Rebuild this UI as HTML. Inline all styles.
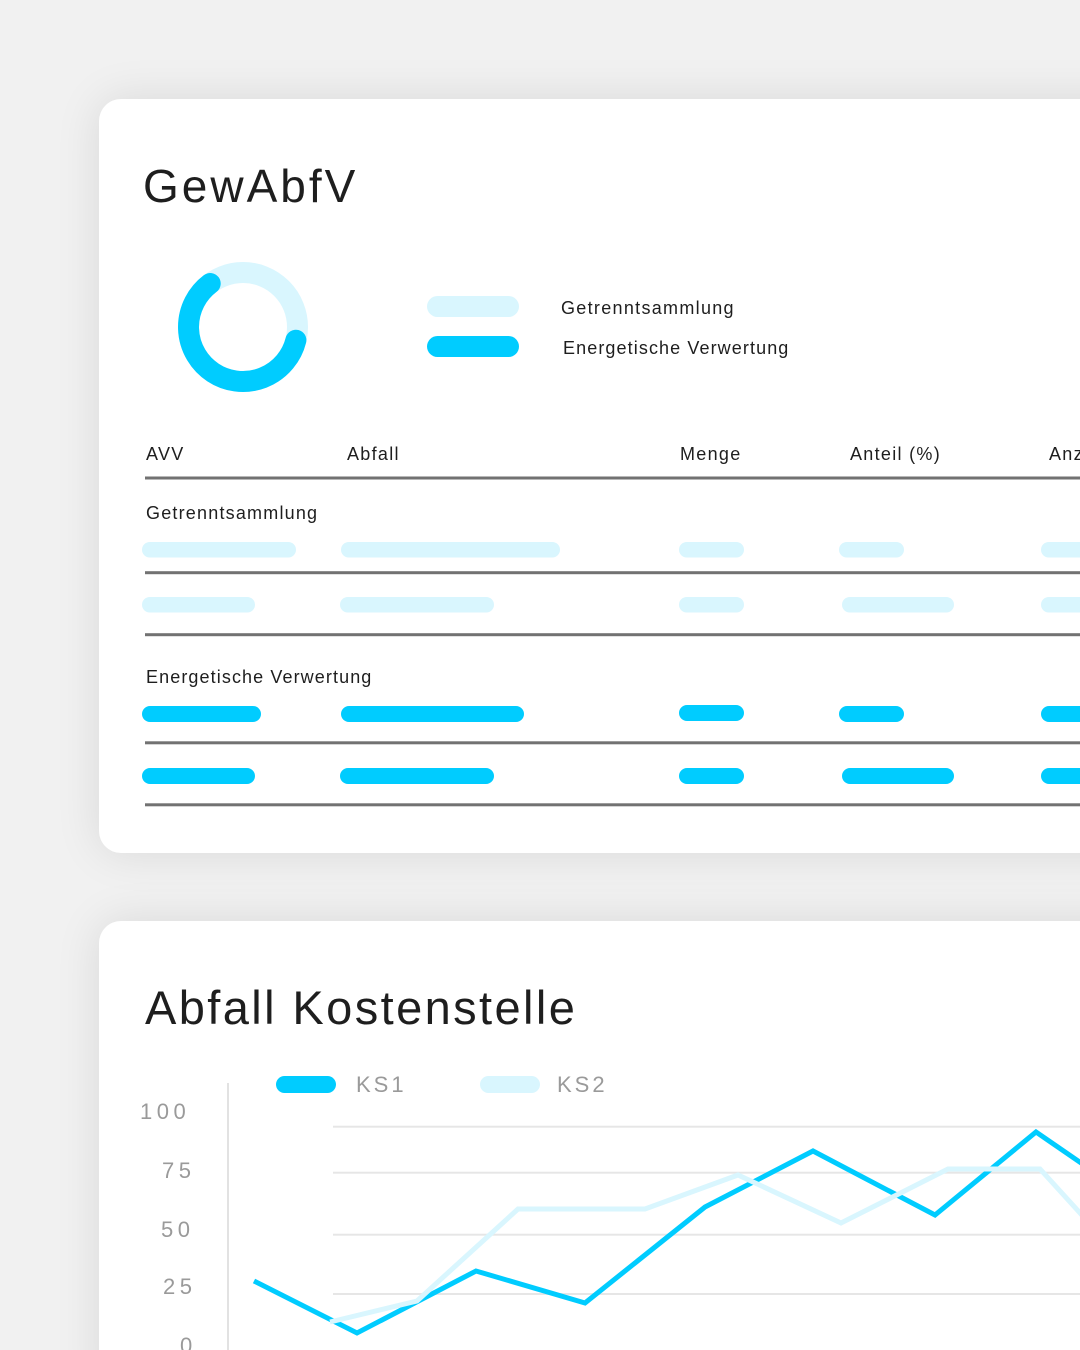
<!DOCTYPE html>
<html>
<head>
<meta charset="utf-8">
<style>
  html, body { margin:0; padding:0; width:1080px; height:1350px; overflow:hidden; background:#f1f1f1; }
  #wrap { position:relative; width:1080px; height:1350px; overflow:hidden; background:#f1f1f1; font-family:"Liberation Sans", sans-serif; }
  .card { position:absolute; left:99px; background:#fff; border-radius:22px; box-shadow:0 0 45px rgba(0,0,0,0.10); }
  svg { position:absolute; left:0; top:0; }
  text { font-family:"Liberation Sans", sans-serif; }
</style>
</head>
<body>
<div id="wrap">
<div class="card" style="top:99px; width:1100px; height:754px;"></div>
<div class="card" style="top:921px; width:1100px; height:480px;"></div>

<svg width="1080" height="1350" viewBox="0 0 1080 1350" xmlns="http://www.w3.org/2000/svg">
  <!-- Card 1 -->
  <text x="143" y="202" font-size="46" fill="#1e1e1e" style="letter-spacing:3px">GewAbfV</text>

  <!-- donut -->
  <circle cx="243" cy="327" r="54.5" fill="none" stroke="#d9f6fe" stroke-width="21"/>
  <path d="M295.9 340.2 A54.5 54.5 0 1 1 210.2 283.5" fill="none" stroke="#00ccff" stroke-width="21" stroke-linecap="round"/>

  <!-- legend -->
  <rect x="427" y="296" width="92" height="21" rx="10.5" fill="#d9f6fe"/>
  <rect x="427" y="336" width="92" height="21" rx="10.5" fill="#00ccff"/>
  <text x="561" y="314" font-size="18" fill="#1e1e1e" style="letter-spacing:1.3px">Getrenntsammlung</text>
  <text x="563" y="354" font-size="18" fill="#1e1e1e" style="letter-spacing:1.1px">Energetische Verwertung</text>

  <!-- table header -->
  <g font-size="18" fill="#1e1e1e" style="letter-spacing:1.3px">
    <text x="146" y="460">AVV</text>
    <text x="347" y="460">Abfall</text>
    <text x="680" y="460">Menge</text>
    <text x="850" y="460">Anteil (%)</text>
    <text x="1049" y="460">Anzahl</text>
  </g>
  <g fill="#727272">
    <rect x="145" y="476.5" width="960" height="3"/>
    <rect x="145" y="571.2" width="960" height="3"/>
    <rect x="145" y="633.2" width="960" height="3"/>
    <rect x="145" y="741.3" width="960" height="3"/>
    <rect x="145" y="803.3" width="960" height="3"/>
  </g>

  <text x="146" y="519" font-size="18" fill="#1e1e1e" style="letter-spacing:1.2px">Getrenntsammlung</text>
  <g fill="#d9f6fe">
    <rect x="142" y="542" width="154" height="15.5" rx="7.75"/>
    <rect x="341" y="542" width="219" height="15.5" rx="7.75"/>
    <rect x="679" y="542" width="65" height="15.5" rx="7.75"/>
    <rect x="839" y="542" width="65" height="15.5" rx="7.75"/>
    <rect x="1041" y="542" width="80" height="15.5" rx="7.75"/>

    <rect x="142" y="597" width="113" height="15.5" rx="7.75"/>
    <rect x="340" y="597" width="154" height="15.5" rx="7.75"/>
    <rect x="679" y="597" width="65" height="15.5" rx="7.75"/>
    <rect x="842" y="597" width="112" height="15.5" rx="7.75"/>
    <rect x="1041" y="597" width="80" height="15.5" rx="7.75"/>
  </g>

  <text x="146" y="683" font-size="18" fill="#1e1e1e" style="letter-spacing:1.1px">Energetische Verwertung</text>
  <g fill="#00ccff">
    <rect x="142" y="706" width="119" height="16" rx="8"/>
    <rect x="341" y="706" width="183" height="16" rx="8"/>
    <rect x="679" y="705" width="65" height="16" rx="8"/>
    <rect x="839" y="706" width="65" height="16" rx="8"/>
    <rect x="1041" y="706" width="80" height="16" rx="8"/>

    <rect x="142" y="768" width="113" height="16" rx="8"/>
    <rect x="340" y="768" width="154" height="16" rx="8"/>
    <rect x="679" y="768" width="65" height="16" rx="8"/>
    <rect x="842" y="768" width="112" height="16" rx="8"/>
    <rect x="1041" y="768" width="80" height="16" rx="8"/>
  </g>

  <!-- Card 2 -->
  <text x="145" y="1024" font-size="47" fill="#1e1e1e" style="letter-spacing:2.4px">Abfall Kostenstelle</text>

  <!-- legend -->
  <rect x="276" y="1076" width="60" height="17" rx="8.5" fill="#00ccff"/>
  <text x="356" y="1092" font-size="22" fill="#9a9a9a" style="letter-spacing:3px">KS1</text>
  <rect x="480" y="1076" width="60" height="17" rx="8.5" fill="#d9f6fe"/>
  <text x="557" y="1092" font-size="22" fill="#9a9a9a" style="letter-spacing:3px">KS2</text>

  <!-- axis -->
  <rect x="227" y="1083" width="2" height="280" fill="#e2e2e2"/>
  <g fill="#e6e6e6">
    <rect x="333" y="1125.7" width="760" height="2"/>
    <rect x="333" y="1171.7" width="760" height="2"/>
    <rect x="333" y="1233.7" width="760" height="2"/>
    <rect x="333" y="1293" width="760" height="2"/>
  </g>
  <g font-size="22" fill="#9a9a9a" style="letter-spacing:4.5px">
    <text x="140" y="1119">100</text>
    <text x="162" y="1178">75</text>
    <text x="161" y="1237">50</text>
    <text x="163" y="1294">25</text>
    <text x="180" y="1353">0</text>
  </g>

  <!-- series -->
  <polyline fill="none" stroke="#00ccff" stroke-width="5" stroke-linejoin="miter"
    points="254,1281 357,1333 476,1271 585,1303 705,1207 813,1151 935,1215 1036,1132 1100,1176"/>
  <polyline fill="none" stroke="#d9f6fe" stroke-width="5" stroke-linejoin="miter"
    points="330,1322 417,1301 518,1209 645,1209 738,1175 841,1223 948,1169 1040,1169 1080,1213 1100,1235"/>
</svg>
</div>
</body>
</html>
